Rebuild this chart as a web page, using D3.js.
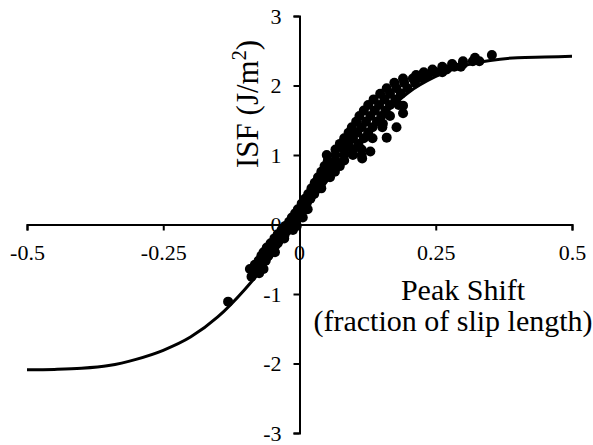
<!DOCTYPE html>
<html>
<head>
<meta charset="utf-8">
<script src="https://cdn.jsdelivr.net/npm/d3@7"></script>
<style>
  body { margin: 0; background: #fff; }
  text { font-family: "Liberation Serif", "Times New Roman", serif; fill: #000; }
</style>
</head>
<body>
<div id="chart"></div>
<script>
// Fitted curve
const curveX = [-0.5, -0.45, -0.4, -0.35, -0.3, -0.25, -0.2, -0.15, -0.1, -0.05, 0, 0.05, 0.1, 0.15, 0.2, 0.25, 0.3, 0.35, 0.4, 0.45, 0.5];
const curveY = [-2.09, -2.085, -2.07, -2.03, -1.94, -1.81, -1.62, -1.33, -0.93, -0.45, 0.1, 0.62, 1.12, 1.55, 1.9, 2.13, 2.28, 2.36, 2.4, 2.41, 2.42];

// Measured points (peak shift, ISF), one line per ISF level
const shiftX = [
  -0.131,
  -0.088,
  -0.083, -0.074,
  -0.091, -0.078, -0.066,
  -0.082, -0.070,
  -0.075, -0.062,
  -0.070, -0.057,
  -0.066, -0.052, -0.045,
  -0.060, -0.048,
  -0.053, -0.040,
  -0.046, -0.034, -0.028,
  -0.040, -0.027,
  -0.033, -0.020, -0.012,
  -0.026, -0.014, -0.005,
  -0.019, -0.008,
  -0.014, -0.002, 0.006,
  -0.008, 0.004,
  -0.003, 0.009, 0.015,
  0.004, 0.013,
  0.010, 0.020,
  0.016, 0.027,
  0.022, 0.033, 0.040,
  0.028, 0.040,
  0.034, 0.047, 0.056,
  0.040, 0.053, 0.065,
  0.046, 0.060, 0.074,
  0.052, 0.066, 0.082,
  0.050, 0.066, 0.082, 0.098, 0.114,
  0.066, 0.082, 0.098, 0.114,
  0.074, 0.090, 0.108,
  0.082, 0.098, 0.118, 0.134,
  0.090, 0.106, 0.126,
  0.096, 0.114, 0.134, 0.152,
  0.104, 0.122, 0.142,
  0.110, 0.130, 0.150, 0.166,
  0.118, 0.138, 0.158,
  0.126, 0.146, 0.166, 0.182,
  0.136, 0.156, 0.176,
  0.148, 0.166, 0.186,
  0.160, 0.178, 0.198,
  0.174, 0.192, 0.212,
  0.190, 0.208, 0.226,
  0.214, 0.236,
  0.228, 0.250, 0.262,
  0.244, 0.270,
  0.262, 0.284, 0.296,
  0.280, 0.300,
  0.300, 0.318, 0.330,
  0.322,
  0.353,
  0.115, 0.130, 0.160, 0.178, 0.190, 0.190, 0.153
];
const isfY = [
  -1.11,
  -0.75,
  -0.70, -0.70,
  -0.64, -0.64, -0.64,
  -0.58, -0.58,
  -0.52, -0.52,
  -0.45, -0.45,
  -0.40, -0.40, -0.40,
  -0.33, -0.33,
  -0.27, -0.27,
  -0.20, -0.20, -0.20,
  -0.14, -0.14,
  -0.08, -0.08, -0.08,
  -0.02, -0.02, -0.02,
  0.04, 0.04,
  0.10, 0.10, 0.10,
  0.16, 0.16,
  0.22, 0.22, 0.22,
  0.30, 0.30,
  0.37, 0.37,
  0.44, 0.44,
  0.52, 0.52, 0.52,
  0.60, 0.60,
  0.68, 0.68, 0.68,
  0.76, 0.76, 0.76,
  0.84, 0.84, 0.84,
  0.92, 0.92, 0.92,
  1.00, 1.00, 1.00, 1.00, 1.00,
  1.08, 1.08, 1.08, 1.08,
  1.16, 1.16, 1.16,
  1.24, 1.24, 1.24, 1.24,
  1.32, 1.32, 1.32,
  1.40, 1.40, 1.40, 1.40,
  1.48, 1.48, 1.48,
  1.56, 1.56, 1.56, 1.56,
  1.64, 1.64, 1.64,
  1.72, 1.72, 1.72, 1.72,
  1.80, 1.80, 1.80,
  1.88, 1.88, 1.88,
  1.96, 1.96, 1.96,
  2.04, 2.04, 2.04,
  2.10, 2.10, 2.10,
  2.15, 2.15,
  2.19, 2.19, 2.19,
  2.23, 2.23,
  2.27, 2.27, 2.27,
  2.31, 2.31,
  2.35, 2.35, 2.35,
  2.40,
  2.44,
  0.95, 1.05, 1.25, 1.40, 1.60, 1.71, 1.45
];

const xTicks = [-0.5, -0.25, 0.25, 0.5];
const yTicks = [-3, -2, -1, 0, 1, 2, 3];

const margin = {top: 16, right: 21, bottom: 12, left: 27};
const width = 593 - margin.left - margin.right;
const height = 445 - margin.top - margin.bottom;

const svg = d3.select("#chart")
    .append("svg")
    .attr("width", 593)
    .attr("height", 445)
    .append("g")
    .attr("transform", `translate(${margin.left},${margin.top})`);

const x = d3.scaleLinear().domain([-0.5, 0.5]).range([0, width]);
const y = d3.scaleLinear().domain([-3, 3]).range([height, 0]);

// x axis through y = 0
const xAxis = svg.append("g")
    .attr("transform", `translate(0,${y(0)})`)
    .call(d3.axisBottom(x).tickValues(xTicks).tickSize(6).tickPadding(14).tickFormat(d => String(d)));
xAxis.select(".domain").attr("stroke-width", 2);
xAxis.selectAll(".tick line").attr("stroke-width", 2);
xAxis.selectAll("text").style("font-size", "22px");

// the x axis "0", just below the crossing
svg.append("text")
    .attr("x", x(0))
    .attr("y", y(0) + 35)
    .style("font-size", "22px")
    .style("text-anchor", "middle")
    .text("0");

// y axis through x = 0
const yAxis = svg.append("g")
    .attr("transform", `translate(${x(0)},0)`)
    .call(d3.axisLeft(y).tickValues(yTicks).tickSize(6).tickPadding(12).tickFormat(d => String(d)));
yAxis.select(".domain").attr("stroke-width", 2);
yAxis.selectAll(".tick line").attr("stroke-width", 2);
yAxis.selectAll("text").style("font-size", "22px");

// axis titles
svg.append("text")
    .attr("transform", "rotate(-90)")
    .attr("x", -88)
    .attr("y", x(0) - 42)
    .style("font-size", "31px")
    .style("text-anchor", "middle")
    .html('ISF (J/m<tspan dy="-12" font-size="20px">2</tspan><tspan dy="12">)</tspan>');

svg.append("text")
    .attr("x", 436)
    .attr("y", 300 - margin.top)
    .style("font-size", "30px")
    .style("text-anchor", "middle")
    .text("Peak Shift");

svg.append("text")
    .attr("x", 426)
    .attr("y", 331 - margin.top)
    .style("font-size", "30px")
    .style("text-anchor", "middle")
    .text("(fraction of slip length)");

// fitted curve
const line = d3.line()
    .x((d, i) => x(curveX[i]))
    .y(d => y(d))
    .curve(d3.curveMonotoneX);

svg.append("path")
    .datum(curveY)
    .attr("fill", "none")
    .attr("stroke", "black")
    .attr("stroke-width", 3)
    .attr("d", line);

// data points
svg.selectAll("circle")
    .data(isfY)
    .enter()
    .append("circle")
    .attr("cx", (d, i) => x(shiftX[i]))
    .attr("cy", d => y(d))
    .attr("r", 5)
    .attr("fill", "black");
</script>
</body>
</html>
